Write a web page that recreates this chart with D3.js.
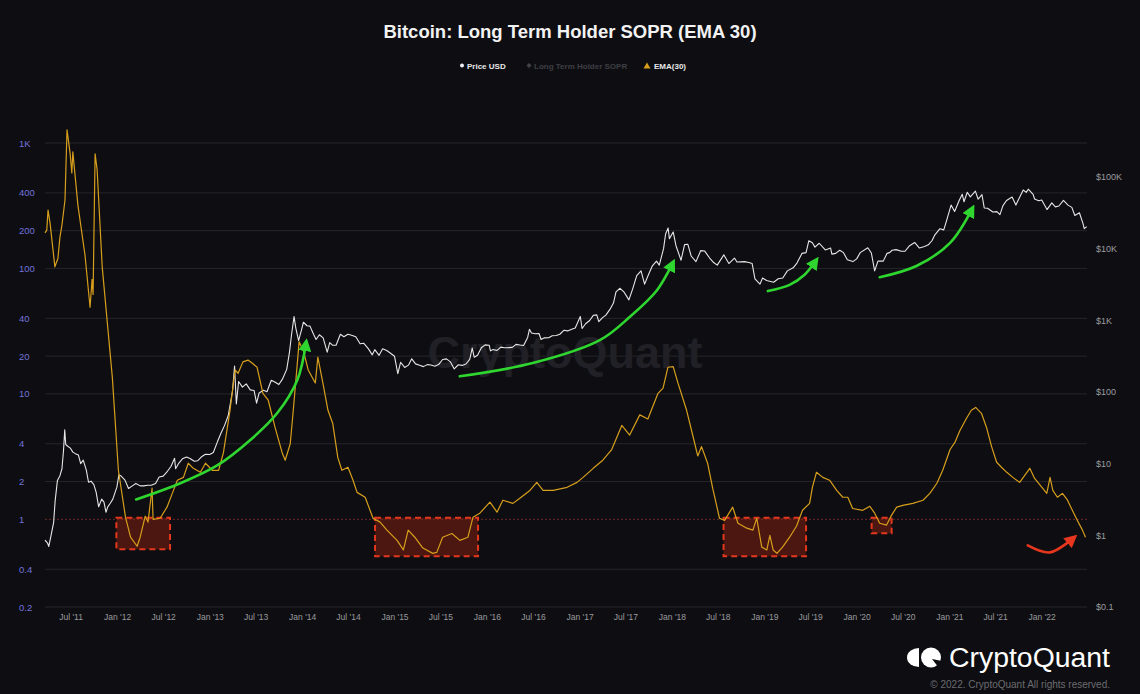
<!DOCTYPE html>
<html><head><meta charset="utf-8">
<script src="https://cdn.jsdelivr.net/npm/d3@7"></script>
<style>
html,body{margin:0;padding:0;background:#0e0e12;}
svg{display:block;font-family:"Liberation Sans",Arial,Helvetica,sans-serif;}
</style></head><body>
<svg id="chart" width="1140" height="694"></svg>
<script>
// ---------------- DATA ----------------
const priceDates = ["2011-03-22","2011-04-01","2011-04-06","2011-04-15","2011-04-25","2011-05-01","2011-05-10","2011-05-20","2011-05-28","2011-06-03","2011-06-08","2011-06-12","2011-06-20","2011-06-30","2011-07-10","2011-07-20","2011-08-01","2011-08-10","2011-08-20","2011-09-01","2011-09-10","2011-09-20","2011-10-01","2011-10-10","2011-10-20","2011-11-01","2011-11-10","2011-11-18","2011-11-25","2011-12-05","2011-12-15","2011-12-31",
"2012-01-08","2012-01-15","2012-02-01","2012-02-15","2012-03-01","2012-03-15","2012-04-01","2012-04-15","2012-05-01","2012-05-15","2012-06-01","2012-06-15","2012-07-01","2012-07-15","2012-08-01","2012-08-15","2012-08-19","2012-09-01","2012-09-15","2012-10-01","2012-10-15","2012-11-01","2012-11-15","2012-12-01","2012-12-15",
"2013-01-01","2013-01-15","2013-02-01","2013-02-15","2013-03-01","2013-03-15","2013-04-01","2013-04-09","2013-04-16","2013-04-25","2013-05-10","2013-05-25","2013-06-10","2013-06-25","2013-07-05","2013-07-15","2013-08-01","2013-08-15","2013-09-01","2013-09-15","2013-10-01","2013-10-15","2013-11-01","2013-11-12","2013-11-20","2013-11-30","2013-12-07","2013-12-18","2013-12-30",
"2014-01-06","2014-01-20","2014-02-01","2014-02-15","2014-02-25","2014-03-10","2014-03-25","2014-04-10","2014-04-20","2014-05-01","2014-05-15","2014-06-01","2014-06-15","2014-07-01","2014-07-15","2014-08-01","2014-08-18","2014-09-01","2014-09-20","2014-10-05","2014-10-15","2014-11-01","2014-11-15","2014-12-01","2014-12-15",
"2015-01-01","2015-01-14","2015-01-25","2015-02-10","2015-02-25","2015-03-10","2015-03-25","2015-04-10","2015-04-25","2015-05-10","2015-05-25","2015-06-10","2015-06-25","2015-07-10","2015-07-25","2015-08-10","2015-08-25","2015-09-10","2015-09-25","2015-10-10","2015-10-25","2015-11-04","2015-11-12","2015-11-25","2015-12-10","2015-12-25",
"2016-01-10","2016-01-15","2016-01-25","2016-02-10","2016-02-25","2016-03-10","2016-03-25","2016-04-10","2016-04-25","2016-05-10","2016-05-25","2016-06-10","2016-06-17","2016-06-25","2016-07-10","2016-07-25","2016-08-02","2016-08-15","2016-09-01","2016-09-15","2016-10-01","2016-10-15","2016-11-01","2016-11-15","2016-12-01","2016-12-15",
"2017-01-04","2017-01-11","2017-01-25","2017-02-10","2017-02-25","2017-03-10","2017-03-18","2017-04-01","2017-04-15","2017-05-01","2017-05-15","2017-05-25","2017-06-10","2017-06-25","2017-07-15","2017-07-30","2017-08-15","2017-09-01","2017-09-15","2017-10-01","2017-10-15","2017-11-01","2017-11-12","2017-11-29","2017-12-07","2017-12-17","2017-12-22",
"2018-01-06","2018-01-17","2018-02-06","2018-02-20","2018-03-05","2018-03-18","2018-04-06","2018-04-25","2018-05-10","2018-05-30","2018-06-15","2018-06-29","2018-07-25","2018-08-14","2018-09-05","2018-09-15","2018-10-15","2018-11-01","2018-11-14","2018-11-25","2018-12-15","2018-12-25",
"2019-01-10","2019-02-07","2019-02-25","2019-03-15","2019-04-02","2019-04-25","2019-05-10","2019-05-30","2019-06-15","2019-06-26","2019-07-10","2019-07-20","2019-08-06","2019-08-30","2019-09-20","2019-09-25","2019-10-10","2019-10-26","2019-11-10","2019-11-25","2019-12-17",
"2020-01-01","2020-01-15","2020-02-14","2020-02-28","2020-03-12","2020-03-25","2020-04-15","2020-04-30","2020-05-10","2020-05-20","2020-06-05","2020-06-25","2020-07-10","2020-07-28","2020-08-17","2020-09-05","2020-09-25","2020-10-10","2020-10-25","2020-11-05","2020-11-25","2020-12-10","2020-12-20",
"2021-01-08","2021-01-22","2021-02-08","2021-02-21","2021-02-28","2021-03-13","2021-03-25","2021-04-14","2021-04-25","2021-05-10","2021-05-19","2021-06-01","2021-06-22","2021-07-08","2021-07-20","2021-08-01","2021-08-15","2021-09-06","2021-09-21","2021-10-01","2021-10-20","2021-11-01","2021-11-09","2021-11-28","2021-12-04","2021-12-20",
"2022-01-01","2022-01-22","2022-02-10","2022-02-24","2022-03-10","2022-03-28","2022-04-15","2022-04-30","2022-05-12","2022-05-30","2022-06-13","2022-06-18","2022-06-28"];
const priceUSD = [0.86,0.78,0.70,1.0,1.5,3.0,5.8,6.8,8.5,15,29.6,18.5,17.5,16.5,14.5,13.8,13.2,10,11.2,8.2,5.5,5.7,5.1,4.0,2.5,3.2,2.9,2.1,2.5,2.8,3.2,4.7,
7.0,6.8,5.9,4.5,4.9,5.3,4.9,4.9,5.0,5.0,5.3,6.5,6.7,7.6,9.2,11.9,8.5,10.2,11.7,12.4,11.8,10.8,11.0,12.6,13.5,
13.4,14.3,20.5,27,34.5,47,104,230,68,140,117,130,107,105,70,97,106,101,146,138,127,151,207,360,630,1130,780,520,750,
940,840,830,640,540,630,570,360,490,450,450,640,590,640,620,590,470,480,400,330,390,325,400,380,350,
315,180,260,220,237,290,247,236,226,241,238,229,243,284,290,263,210,240,235,246,285,410,305,325,415,455,
450,375,392,380,423,414,416,420,462,452,445,577,750,665,650,655,540,570,572,610,615,640,728,712,753,780,
1130,770,895,995,1180,1190,960,1080,1180,1420,1740,2500,2800,2500,1930,2750,4200,4900,3200,4400,5700,6700,5900,10000,16000,19400,13800,
17100,11000,6900,11400,11500,7900,6600,9400,9300,7400,6400,5900,8200,6200,7400,6500,6600,6400,6200,3800,3200,3900,
3600,3400,3800,3900,4900,5400,6300,8600,8800,12900,12100,10500,11900,9600,10200,8400,8600,9500,8800,7000,6600,
7200,8800,10300,8700,4900,6700,6700,8600,8800,9500,9700,9200,9200,11000,12200,10200,10700,11300,13000,15600,19000,18300,23800,
40600,33000,46200,57500,45100,61200,52800,63500,49000,56700,37000,36700,32500,32900,29800,39900,47000,52600,40600,48100,65900,61000,67600,57300,49300,46700,
47700,35100,43500,38300,39400,47100,40500,37700,29000,31700,22500,19000,20300];

const emaDates = ["2011-03-22","2011-03-29","2011-04-03","2011-04-11","2011-04-30","2011-05-12","2011-05-20","2011-05-28","2011-06-09","2011-06-17","2011-06-29","2011-07-06","2011-07-10","2011-07-30","2011-08-27","2011-09-16","2011-09-24","2011-09-28","2011-10-06","2011-10-14","2011-11-03","2011-12-13",
"2012-01-06","2012-02-03","2012-02-23","2012-03-20","2012-04-01","2012-04-21","2012-05-02","2012-05-18","2012-05-22","2012-06-19","2012-07-16","2012-08-06","2012-08-26","2012-09-19","2012-10-08","2012-10-28","2012-11-25","2012-12-15",
"2013-01-11","2013-02-05","2013-02-24","2013-03-22","2013-04-11","2013-04-23","2013-05-12","2013-06-01","2013-06-17","2013-07-07","2013-07-30","2013-08-20","2013-09-16","2013-10-14","2013-10-26","2013-11-15","2013-11-27","2013-12-13","2013-12-20",
"2014-01-06","2014-01-25","2014-02-10","2014-02-22","2014-03-04","2014-03-24","2014-04-13","2014-05-02","2014-05-22","2014-06-07","2014-07-01","2014-07-21","2014-08-06","2014-09-07","2014-10-08","2014-11-05","2014-12-02",
"2015-01-11","2015-02-05","2015-02-24","2015-03-22","2015-04-23","2015-06-01","2015-06-17","2015-07-10","2015-08-16","2015-09-16","2015-10-18","2015-11-07","2015-12-04",
"2016-01-13","2016-02-10","2016-03-04","2016-04-13","2016-05-10","2016-06-19","2016-07-16","2016-08-10","2016-09-19","2016-11-13","2016-12-22",
"2017-01-15","2017-02-24","2017-04-03","2017-05-08","2017-06-17","2017-07-18","2017-08-27","2017-09-28","2017-11-07","2017-11-27","2017-12-16",
"2018-01-06","2018-01-25","2018-02-28","2018-03-24","2018-04-13","2018-04-28","2018-05-22","2018-06-11","2018-07-08","2018-07-28","2018-08-29","2018-09-19","2018-10-24","2018-11-17","2018-12-02","2018-12-22",
"2019-01-11","2019-01-23","2019-02-05","2019-02-20","2019-03-14","2019-04-11","2019-05-08","2019-06-01","2019-06-29","2019-07-10","2019-07-26","2019-08-20","2019-09-16","2019-10-14","2019-11-07","2019-11-27","2019-12-16",
"2020-01-25","2020-02-22","2020-03-12","2020-04-01","2020-04-28","2020-05-18","2020-06-07","2020-07-01","2020-08-10","2020-09-19","2020-10-16","2020-11-13","2020-12-06",
"2021-01-04","2021-01-23","2021-02-12","2021-03-10","2021-03-29","2021-04-15","2021-05-08","2021-05-28","2021-06-17","2021-07-07","2021-07-26","2021-08-16","2021-09-09","2021-10-06","2021-10-26","2021-11-15","2021-12-04",
"2022-01-02","2022-01-21","2022-02-03","2022-02-14","2022-03-04","2022-03-24","2022-04-13","2022-05-02","2022-05-22","2022-06-11","2022-06-23"];
const emaSOPR = [192,202,292,230,103,120,178,222,351,1273,834,577,850,320,128,49,82,62,820,610,103,13.6,
2.46,1.04,0.72,0.61,0.72,1.06,0.95,1.77,1.0,1.02,1.25,1.61,2.05,2.16,2.80,2.55,2.37,2.80,
2.46,2.46,3.4,7.4,15.5,14.6,18,18.6,17.6,16.3,10.1,8.9,5.4,3.4,2.96,4.0,7.4,17.6,26,
22,15.5,13.5,12.2,19.6,12.2,7.4,5.8,3.1,2.46,2.60,2.05,1.64,1.50,1.02,0.95,0.82,
0.68,0.57,0.82,0.72,0.59,0.535,0.545,0.72,0.77,0.68,0.72,1.04,1.12,
1.37,1.14,1.42,1.34,1.47,1.70,1.97,1.70,1.70,1.80,1.97,
2.16,2.55,2.96,3.6,5.6,4.7,6.8,6.3,10.1,11.1,16.3,
16.5,12.2,7.4,4.7,3.2,3.8,2.80,1.77,1.02,0.98,1.25,0.93,0.85,0.82,1.02,0.60,
0.57,0.745,0.57,0.535,0.60,0.72,0.88,1.18,1.34,1.80,2.37,2.16,2.05,1.70,1.50,1.50,1.22,
1.18,1.27,1.12,0.93,0.90,1.08,1.25,1.29,1.34,1.42,1.61,1.94,2.46,
3.6,4.1,5.1,6.4,7.4,7.8,7.0,5.4,3.8,2.85,2.60,2.37,2.16,1.97,2.24,2.55,2.12,
1.80,1.61,2.16,1.70,1.50,1.61,1.42,1.18,0.98,0.82,0.72];

const leftTicks = [0.2,0.4,1,2,4,10,20,40,100,200,400,1000];
const leftTickLabels = ["0.2","0.4","1","2","4","10","20","40","100","200","400","1K"];
const rightTicks = [0.1,1,10,100,1000,10000,100000];
const rightTickLabels = ["$0.1","$1","$10","$100","$1K","$10K","$100K"];
const xTickDates = ["2011-07-01","2012-01-01","2012-07-01","2013-01-01","2013-07-01","2014-01-01","2014-07-01","2015-01-01","2015-07-01","2016-01-01","2016-07-01","2017-01-01","2017-07-01","2018-01-01","2018-07-01","2019-01-01","2019-07-01","2020-01-01","2020-07-01","2021-01-01","2021-07-01","2022-01-01"];
const xTickLabels = ["Jul '11","Jan '12","Jul '12","Jan '13","Jul '13","Jan '14","Jul '14","Jan '15","Jul '15","Jan '16","Jul '16","Jan '17","Jul '17","Jan '18","Jul '18","Jan '19","Jul '19","Jan '20","Jul '20","Jan '21","Jul '21","Jan '22"];

// annotation boxes (SOPR < 1 zones)
const boxStart = ["2011-12-29","2014-10-16","2018-07-24","2020-02-29"];
const boxEnd   = ["2012-07-28","2015-11-27","2019-06-15","2020-05-18"];
const boxTop   = [1.03,1.03,1.03,1.03];
const boxBottom= [0.576,0.507,0.507,0.773];

// annotation arrows (date, SOPR value along the path)
const arrowDates = [
  ["2012-03-16","2012-09-07","2013-02-01","2013-06-09","2013-09-24","2013-12-13","2014-01-17"],
  ["2015-09-16","2016-06-30","2017-03-22","2017-07-18","2017-11-03","2018-01-06"],
  ["2019-01-15","2019-04-11","2019-06-09","2019-07-26"],
  ["2020-04-01","2020-08-26","2021-01-04","2021-04-03"],
  ["2021-11-07","2022-02-03","2022-05-10"]
];
const arrowValues = [
  [1.44,1.94,2.70,4.27,7.0,12.9,25.9],
  [13.8,17.6,26.8,41,67,112],
  [66,74,89,117],
  [85,105,160,303],
  [0.62,0.545,0.72]
];
const arrowKinds = ["up","up","up","up","down"];

// ---------------- CHART ----------------
(function () {
const parse = d3.timeParse("%Y-%m-%d");
const svg = d3.select("#chart");
const W = 1140, H = 694;
const pL = 45, pR = 1087, pT = 143, pB = 607;

svg.append("rect").attr("width", W).attr("height", H).attr("fill", "#0e0e12");

const x = d3.scaleTime().domain([parse("2011-03-22"), parse("2022-06-29")]).range([pL, pR]);
const yL = d3.scaleLog().domain([0.2, 1000]).range([pB, pT]);
const yR = d3.scaleLog().domain([0.1, 100000]).range([pB, 177]);

// gridlines
svg.append("g").selectAll("line").data(leftTicks.filter(v => v !== 1)).join("line")
  .attr("x1", pL).attr("x2", pR)
  .attr("y1", d => yL(d)).attr("y2", d => yL(d))
  .attr("stroke", "#25252b").attr("stroke-width", 1);

// watermark
svg.append("text").attr("x", 565).attr("y", 368).attr("text-anchor", "middle")
  .attr("font-size", 45).attr("fill", "#202026").attr("font-weight", "bold")
  .text("CryptoQuant");

// plot line at SOPR = 1
svg.append("line").attr("x1", pL).attr("x2", pR)
  .attr("y1", yL(1)).attr("y2", yL(1))
  .attr("stroke", "#6a2a2a").attr("stroke-width", 1).attr("stroke-dasharray", "2,2");

// boxes
svg.append("g").selectAll("rect").data(boxStart.map((d, i) => i)).join("rect")
  .attr("x", i => x(parse(boxStart[i])))
  .attr("y", i => yL(boxTop[i]))
  .attr("width", i => x(parse(boxEnd[i])) - x(parse(boxStart[i])))
  .attr("height", i => yL(boxBottom[i]) - yL(boxTop[i]))
  .attr("fill", "rgba(150,35,15,0.45)")
  .attr("stroke", "#e3381e").attr("stroke-width", 2).attr("stroke-dasharray", "6,4");

// price line
const priceData = priceDates.map((d, i) => [parse(d), priceUSD[i]]);
svg.append("path").datum(priceData)
  .attr("fill", "none").attr("stroke", "#e6e6e6").attr("stroke-width", 1.1)
  .attr("stroke-linejoin", "round")
  .attr("d", d3.line().x(d => x(d[0])).y(d => yR(d[1])));

// EMA line
const emaData = emaDates.map((d, i) => [parse(d), emaSOPR[i]]);
svg.append("path").datum(emaData)
  .attr("fill", "none").attr("stroke", "#d69e1c").attr("stroke-width", 1.2)
  .attr("stroke-linejoin", "round")
  .attr("d", d3.line().x(d => x(d[0])).y(d => yL(d[1])));

// arrow markers
const defs = svg.append("defs");
[["up", "#2fd62f"], ["down", "#e6361d"]].forEach(([id, col]) => {
  defs.append("marker").attr("id", "ah-" + id)
    .attr("viewBox", "0 0 10 10").attr("refX", 7).attr("refY", 5)
    .attr("markerUnits", "userSpaceOnUse").attr("markerWidth", 13).attr("markerHeight", 13)
    .attr("orient", "auto")
    .append("path").attr("d", "M0,0 L10,5 L0,10 Z").attr("fill", col);
});
const arrowLine = d3.line().x(d => x(d[0])).y(d => yL(d[1])).curve(d3.curveCatmullRom.alpha(0.5));
arrowDates.forEach((ds, k) => {
  const pts = ds.map((d, i) => [parse(d), arrowValues[k][i]]);
  svg.append("path").datum(pts)
    .attr("fill", "none")
    .attr("stroke", arrowKinds[k] === "up" ? "#2fd62f" : "#e6361d")
    .attr("stroke-width", 2.6).attr("stroke-linecap", "round")
    .attr("marker-end", `url(#ah-${arrowKinds[k]})`)
    .attr("d", arrowLine);
});

// axes
const axL = d3.axisRight(yL).tickValues(leftTicks).tickFormat((d, i) => leftTickLabels[i]).tickSize(0).tickPadding(0);
const gL = svg.append("g").attr("transform", "translate(19,0)").call(axL);
gL.select(".domain").remove();
gL.selectAll("text").attr("fill", "#7272dc").attr("font-size", 9.5).attr("font-family", "Liberation Sans, Arial, sans-serif");

const axR = d3.axisRight(yR).tickValues(rightTicks).tickFormat((d, i) => rightTickLabels[i]).tickSize(0).tickPadding(0);
const gR = svg.append("g").attr("transform", "translate(1096,0)").call(axR);
gR.select(".domain").remove();
gR.selectAll("text").attr("fill", "#9c9ca0").attr("font-size", 9).attr("font-family", "Liberation Sans, Arial, sans-serif");

const axB = d3.axisBottom(x).tickValues(xTickDates.map(parse)).tickFormat((d, i) => xTickLabels[i]).tickSize(0).tickPadding(7);
const gB = svg.append("g").attr("transform", `translate(0,${pB})`).call(axB);
gB.select(".domain").remove();
gB.selectAll("text").attr("fill", "#9a9a9e").attr("font-size", 8.5).attr("font-family", "Liberation Sans, Arial, sans-serif");

// title
svg.append("text").attr("x", 570).attr("y", 38).attr("text-anchor", "middle")
  .attr("font-size", 18.5).attr("font-weight", "bold").attr("fill", "#f2f2f2")
  .text("Bitcoin: Long Term Holder SOPR (EMA 30)");

// legend
const lg = svg.append("g").attr("font-size", 8).attr("font-weight", "bold");
lg.append("circle").attr("cx", 462).attr("cy", 65.5).attr("r", 2).attr("fill", "#f0f0f0");
lg.append("text").attr("x", 467).attr("y", 68.5).attr("fill", "#e8e8e8").text("Price USD");
lg.append("path").attr("d", "M529,63 L531.5,65.5 L529,68 L526.5,65.5 Z").attr("fill", "#444448");
lg.append("text").attr("x", 534).attr("y", 68.5).attr("fill", "#3e3e44").text("Long Term Holder SOPR");
lg.append("path").attr("d", "M647,62.5 L650.5,68.5 L643.5,68.5 Z").attr("fill", "#d69e1c");
lg.append("text").attr("x", 654).attr("y", 68.5).attr("fill", "#e8e8e8").text("EMA(30)");

// brand logo
const logo = svg.append("g");
logo.append("path").attr("d", "M919,648 L919,667 A12,9.5 0 0 1 919,648 Z").attr("fill", "#ffffff");
logo.append("circle").attr("cx", 931).attr("cy", 657.5).attr("r", 10).attr("fill", "#ffffff");
logo.append("path").attr("d", "M932,659 L942,661 L939,668 Z").attr("fill", "#0e0e12");
logo.append("text").attr("x", 1110).attr("y", 667).attr("text-anchor", "end")
  .attr("font-size", 27).attr("fill", "#ffffff")
  .attr("textLength", 161).attr("lengthAdjust", "spacingAndGlyphs")
  .text("CryptoQuant");
svg.append("text").attr("x", 1110).attr("y", 688).attr("text-anchor", "end")
  .attr("font-size", 10).attr("fill", "#6c6c70")
  .text("© 2022. CryptoQuant All rights reserved.");
})();
</script>
</body></html>
